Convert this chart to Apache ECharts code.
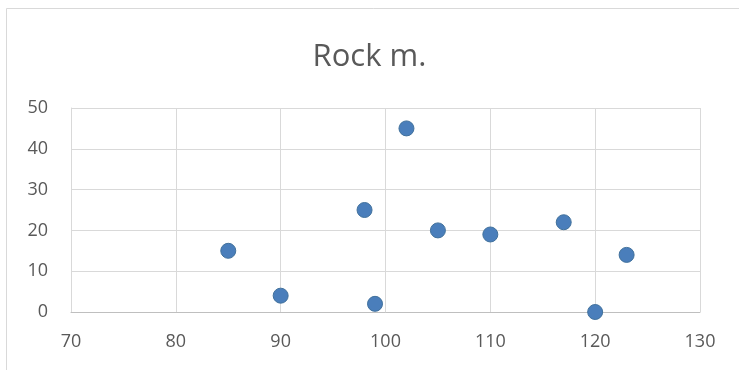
<!DOCTYPE html>
<html><head><meta charset="utf-8">
<script src="https://cdn.jsdelivr.net/npm/echarts@6/dist/echarts.min.js"></script>
<style>html,body{margin:0;padding:0;background:#fff}#c{width:739px;height:370px}</style>
</head><body><div id="c"></div>
<script>
const title = "Rock m.";
const xValues = [85, 90, 98, 99, 102, 105, 110, 117, 120, 123];
const yValues = [15, 4, 25, 2, 45, 20, 19, 22, 0, 14];
const xTicks = {min: 70, max: 130, interval: 10};
const yTicks = {min: 0, max: 50, interval: 10};

const points = xValues.map((x, i) => [x, yValues[i]]);
const chart = echarts.init(document.getElementById('c'), null, {renderer: 'canvas'});
const font = 'Open Sans, Liberation Sans, sans-serif';
chart.setOption({
  animation: false,
  backgroundColor: '#fff',
  graphic: [{type: 'rect', shape: {x: 6.5, y: 8.5, width: 760, height: 400}, style: {fill: 'none', stroke: '#d9d9d9', lineWidth: 1}, silent: true, z: -1}],
  title: {text: title, left: 'center', top: 37, textStyle: {fontFamily: font, fontSize: 31, fontWeight: 'normal', color: '#595959'}},
  grid: {left: 71, right: 39, top: 108, bottom: 58},
  xAxis: {type: 'value', min: xTicks.min, max: xTicks.max, interval: xTicks.interval,
    axisLine: {show: true, onZero: false, lineStyle: {color: '#bfbfbf'}}, axisTick: {show: false},
    splitLine: {show: true, lineStyle: {color: '#d9d9d9'}},
    axisLabel: {fontFamily: font, fontSize: 18, color: '#595959', margin: 21}},
  yAxis: {type: 'value', min: yTicks.min, max: yTicks.max, interval: yTicks.interval,
    axisLine: {show: true, lineStyle: {color: '#d9d9d9'}}, axisTick: {show: false},
    splitLine: {show: true, lineStyle: {color: '#d9d9d9'}},
    axisLabel: {fontFamily: font, fontSize: 18, color: '#595959', margin: 23}},
  series: [{type: 'scatter', data: points, symbolSize: 15,
    itemStyle: {color: '#4a7ebb', borderColor: '#41719c', borderWidth: 1, opacity: 1}}]
});
</script></body></html>
